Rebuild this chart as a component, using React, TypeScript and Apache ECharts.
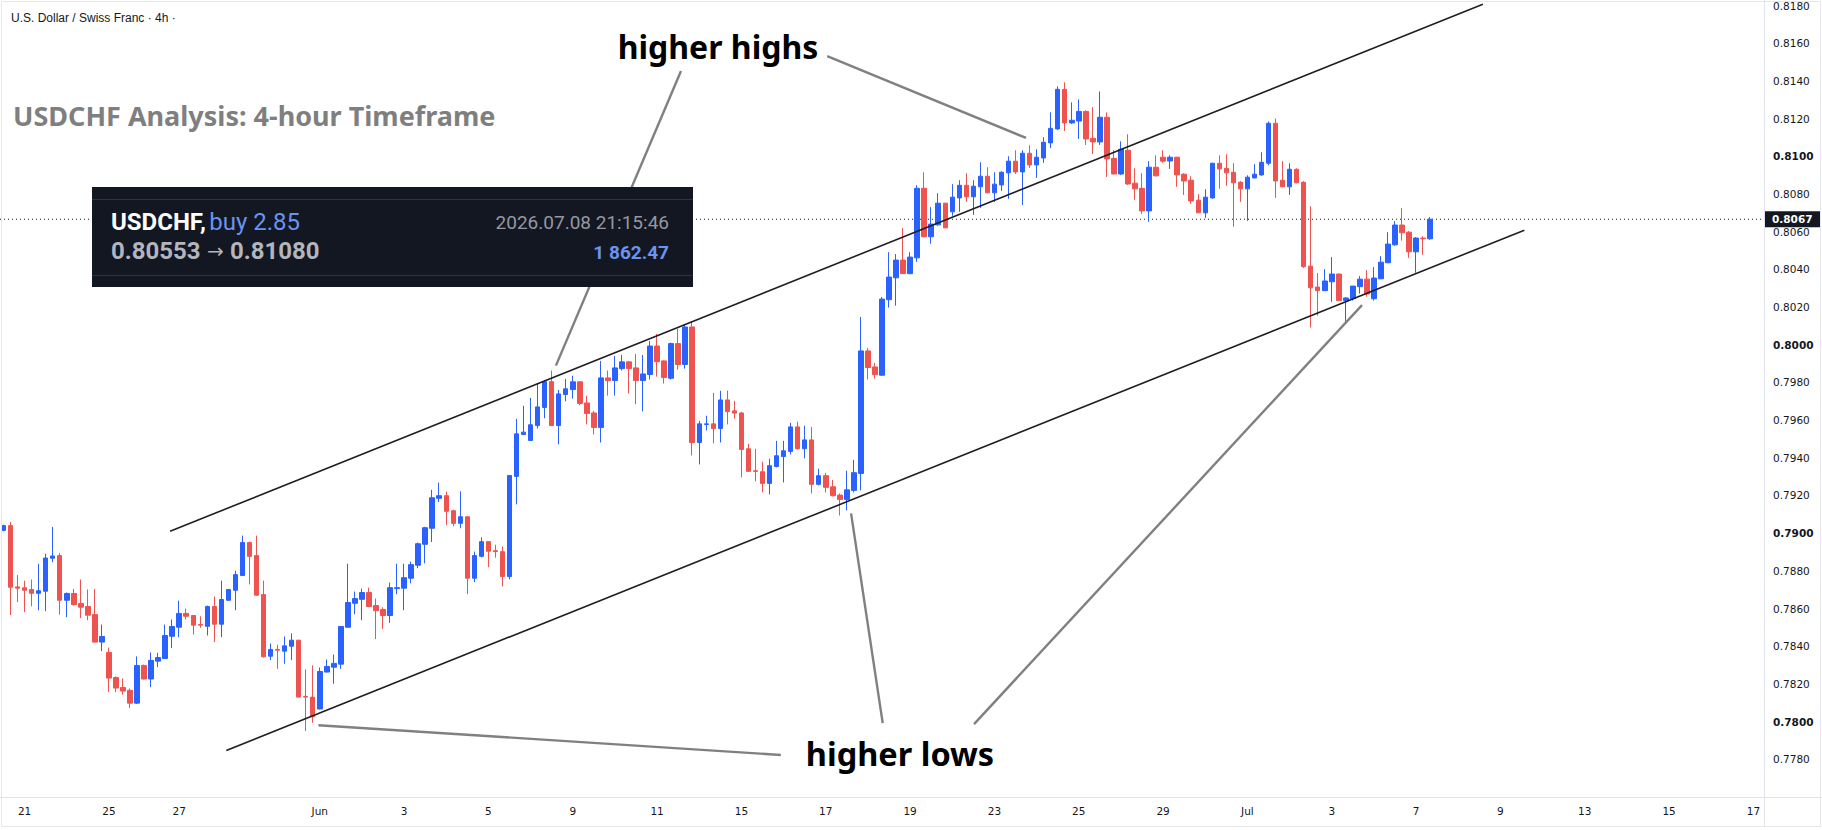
import React, { useEffect, useRef } from "react";
import * as echarts from "echarts";

// ---- Candle data (4h bars, USDCHF) ----
const opens = [
  0.79015, 0.7904, 0.78715, 0.7871, 0.78701, 0.78681, 0.78692, 0.78867, 0.78881, 0.78644,
  0.7868, 0.78627, 0.78611, 0.78568, 0.78422, 0.78367, 0.78234, 0.78181, 0.78166, 0.78098,
  0.78298, 0.78226, 0.78321, 0.78335, 0.78453, 0.78501, 0.78574, 0.78563, 0.78515, 0.78506,
  0.78611, 0.78517, 0.78644, 0.78697, 0.78775, 0.7895, 0.78881, 0.78674, 0.78347, 0.78383,
  0.78374, 0.784, 0.78432, 0.78134, 0.7813, 0.78067, 0.78263, 0.78289, 0.78305, 0.78501,
  0.78628, 0.78649, 0.78685, 0.78616, 0.78595, 0.78563, 0.78706, 0.78708, 0.78761, 0.7883,
  0.78941, 0.79026, 0.79185, 0.79199, 0.79119, 0.79052, 0.79087, 0.78761, 0.78877, 0.78955,
  0.78907, 0.78902, 0.7877, 0.79301, 0.79524, 0.79492, 0.79571, 0.79667, 0.79804, 0.79571,
  0.79736, 0.79762, 0.79803, 0.79691, 0.79638, 0.79561, 0.79824, 0.7981, 0.79873, 0.79909,
  0.79877, 0.7981, 0.79842, 0.79993, 0.79914, 0.79822, 0.80006, 0.79895, 0.80094, 0.79481,
  0.79577, 0.7958, 0.79555, 0.79707, 0.79649, 0.79638, 0.79448, 0.79331, 0.79326, 0.79264,
  0.79354, 0.79407, 0.79434, 0.79564, 0.79448, 0.79495, 0.79259, 0.79305, 0.79246, 0.79202,
  0.79179, 0.79227, 0.79317, 0.79967, 0.79882, 0.79838, 0.80239, 0.80355, 0.80449, 0.80377,
  0.80461, 0.8083, 0.80573, 0.80636, 0.80751, 0.80705, 0.80779, 0.80846, 0.80785, 0.80838,
  0.80894, 0.80806, 0.80848, 0.80912, 0.80974, 0.80917, 0.81016, 0.80954, 0.80991, 0.81071,
  0.81145, 0.81355, 0.81177, 0.81187, 0.81238, 0.81095, 0.81076, 0.81207, 0.80989, 0.80906,
  0.81032, 0.80857, 0.8083, 0.8071, 0.80942, 0.80995, 0.80975, 0.80995, 0.80905, 0.80873,
  0.80767, 0.807, 0.80779, 0.80963, 0.80936, 0.80915, 0.80862, 0.80827, 0.80885, 0.80901,
  0.80963, 0.81175, 0.80873, 0.80838, 0.80931, 0.80862, 0.80417, 0.80306, 0.80287, 0.80334,
  0.80375, 0.80234, 0.80244, 0.80308, 0.80348, 0.80244, 0.8035, 0.80435, 0.8053, 0.80635,
  0.80597, 0.80493, 0.80566, 0.80562,
];
const highs = [
  0.79045, 0.79059, 0.78778, 0.78748, 0.78754, 0.78838, 0.78891, 0.79033, 0.78895, 0.78685,
  0.78704, 0.78754, 0.78701, 0.78704, 0.78515, 0.78393, 0.7824, 0.78229, 0.78176, 0.78346,
  0.78303, 0.78367, 0.78365, 0.78515, 0.78542, 0.78642, 0.786, 0.78563, 0.78559, 0.78616,
  0.78664, 0.78748, 0.78703, 0.78801, 0.78987, 0.78955, 0.78987, 0.78748, 0.78415, 0.78408,
  0.78452, 0.78468, 0.78434, 0.78277, 0.78298, 0.78287, 0.7833, 0.78356, 0.78507, 0.78838,
  0.7869, 0.78706, 0.78711, 0.78653, 0.78607, 0.78738, 0.78838, 0.78838, 0.78849, 0.7895,
  0.79034, 0.7923, 0.79268, 0.7922, 0.79125, 0.79222, 0.79089, 0.78902, 0.78978, 0.78957,
  0.78939, 0.78929, 0.79308, 0.79607, 0.79676, 0.79718, 0.79796, 0.79813, 0.79863, 0.7976,
  0.79819, 0.79835, 0.79806, 0.79729, 0.79649, 0.79914, 0.79863, 0.7994, 0.79946, 0.79914,
  0.79951, 0.79946, 0.8002, 0.80057, 0.79916, 0.80011, 0.80084, 0.8011, 0.80126, 0.79596,
  0.79623, 0.79744, 0.79755, 0.79757, 0.79702, 0.79644, 0.79474, 0.79448, 0.79379, 0.79395,
  0.7949, 0.7949, 0.79585, 0.79591, 0.7957, 0.79564, 0.79342, 0.79321, 0.79283, 0.79211,
  0.79331, 0.79389, 0.80147, 0.79983, 0.79903, 0.80253, 0.80491, 0.80481, 0.80619, 0.80491,
  0.80846, 0.80915, 0.8073, 0.80804, 0.80753, 0.80852, 0.80873, 0.8091, 0.80873, 0.80968,
  0.80942, 0.80915, 0.80921, 0.81, 0.81032, 0.81032, 0.81058, 0.81037, 0.81101, 0.81233,
  0.81371, 0.81392, 0.81286, 0.81302, 0.81244, 0.8126, 0.81344, 0.81233, 0.81032, 0.81079,
  0.81117, 0.80936, 0.8091, 0.80974, 0.81005, 0.81032, 0.81005, 0.80997, 0.8091, 0.80894,
  0.80799, 0.80825, 0.80965, 0.81005, 0.81011, 0.80963, 0.80868, 0.80899, 0.80958, 0.81021,
  0.81185, 0.812, 0.80974, 0.80963, 0.80936, 0.80868, 0.80735, 0.8038, 0.80401, 0.80465,
  0.80377, 0.80253, 0.80311, 0.80364, 0.80396, 0.80412, 0.8047, 0.80597, 0.80656, 0.80725,
  0.80603, 0.80571, 0.80576, 0.80677,
];
const lows = [
  0.7901, 0.78565, 0.78634, 0.78581, 0.78612, 0.78591, 0.78586, 0.78846, 0.78568, 0.78554,
  0.78616, 0.78549, 0.78538, 0.7842, 0.78374, 0.78157, 0.78157, 0.78143, 0.78072, 0.78093,
  0.78224, 0.78183, 0.78289, 0.78332, 0.7839, 0.78448, 0.78542, 0.78462, 0.78498, 0.78457,
  0.78422, 0.78448, 0.78642, 0.78591, 0.78775, 0.78728, 0.78667, 0.7834, 0.78326, 0.7828,
  0.78307, 0.78326, 0.78128, 0.7795, 0.77994, 0.78065, 0.78261, 0.78201, 0.7828, 0.78499,
  0.7857, 0.78538, 0.78607, 0.78438, 0.78492, 0.78524, 0.78676, 0.78591, 0.78734, 0.78814,
  0.7884, 0.78953, 0.79165, 0.79042, 0.79036, 0.79026, 0.78676, 0.7874, 0.78872, 0.78819,
  0.7887, 0.78718, 0.78755, 0.79153, 0.79522, 0.7949, 0.79555, 0.7961, 0.79569, 0.79471,
  0.797, 0.79714, 0.79679, 0.79577, 0.79524, 0.79481, 0.7973, 0.7973, 0.79863, 0.79741,
  0.79684, 0.79646, 0.79815, 0.79831, 0.79794, 0.79815, 0.79868, 0.79873, 0.79412, 0.79365,
  0.79545, 0.79476, 0.79481, 0.79577, 0.79607, 0.79296, 0.79326, 0.79275, 0.79216, 0.79206,
  0.79349, 0.79269, 0.79418, 0.79444, 0.79397, 0.79211, 0.79253, 0.79216, 0.79195, 0.79094,
  0.79121, 0.79216, 0.79227, 0.79815, 0.7982, 0.79836, 0.80197, 0.80207, 0.80375, 0.80375,
  0.8044, 0.80571, 0.80536, 0.80631, 0.80618, 0.80684, 0.80705, 0.80758, 0.80689, 0.80726,
  0.80804, 0.80758, 0.80816, 0.80774, 0.80906, 0.80742, 0.80938, 0.80885, 0.80965, 0.81044,
  0.8114, 0.81134, 0.81171, 0.81092, 0.8106, 0.81012, 0.8106, 0.8089, 0.80904, 0.80901,
  0.80848, 0.80769, 0.80694, 0.80652, 0.80894, 0.80965, 0.80933, 0.80838, 0.80795, 0.80747,
  0.80698, 0.80673, 0.80774, 0.80827, 0.80843, 0.80626, 0.80758, 0.80657, 0.80883, 0.80896,
  0.80952, 0.80779, 0.80836, 0.80795, 0.80857, 0.80408, 0.80091, 0.80154, 0.80285, 0.80228,
  0.80232, 0.80117, 0.80234, 0.80271, 0.80255, 0.80234, 0.80348, 0.80433, 0.80525, 0.80552,
  0.80461, 0.80382, 0.80477, 0.80557,
];
const closes = [
  0.7904, 0.78713, 0.78708, 0.78697, 0.78681, 0.78695, 0.78868, 0.78879, 0.78644, 0.7868,
  0.78621, 0.78607, 0.78565, 0.78422, 0.78452, 0.78231, 0.78178, 0.78162, 0.78098, 0.78298,
  0.78226, 0.78325, 0.7834, 0.78457, 0.78505, 0.78574, 0.78559, 0.78512, 0.78512, 0.78611,
  0.78517, 0.78648, 0.78701, 0.7878, 0.7895, 0.78877, 0.78671, 0.78344, 0.78383, 0.78379,
  0.78402, 0.78432, 0.7813, 0.7813, 0.78026, 0.78266, 0.78293, 0.78309, 0.78505, 0.78632,
  0.78653, 0.78685, 0.78611, 0.78589, 0.78563, 0.78711, 0.78711, 0.78764, 0.78833, 0.78944,
  0.79029, 0.79188, 0.79199, 0.79116, 0.79052, 0.79087, 0.78761, 0.78881, 0.78955, 0.78904,
  0.78902, 0.7877, 0.79306, 0.79527, 0.79536, 0.79575, 0.7967, 0.79804, 0.79571, 0.79739,
  0.79766, 0.79803, 0.79688, 0.79635, 0.79561, 0.79824, 0.7981, 0.79877, 0.79909, 0.79873,
  0.7981, 0.79845, 0.79993, 0.7991, 0.79826, 0.80006, 0.79895, 0.80094, 0.79481, 0.7958,
  0.7958, 0.79555, 0.79707, 0.79645, 0.79637, 0.79444, 0.79328, 0.79328, 0.79264, 0.79358,
  0.79411, 0.79437, 0.79564, 0.79448, 0.79495, 0.79259, 0.79305, 0.79243, 0.79199, 0.79179,
  0.7923, 0.79321, 0.79967, 0.79879, 0.79841, 0.80242, 0.80359, 0.80449, 0.80377, 0.80465,
  0.8083, 0.80573, 0.8064, 0.80751, 0.8062, 0.80783, 0.80846, 0.80785, 0.80841, 0.80894,
  0.80806, 0.80852, 0.80915, 0.80974, 0.80917, 0.81016, 0.80954, 0.80995, 0.81074, 0.81148,
  0.81355, 0.81177, 0.81191, 0.81238, 0.81092, 0.81076, 0.81207, 0.80986, 0.80906, 0.81037,
  0.80853, 0.80827, 0.8071, 0.80942, 0.80896, 0.80974, 0.80995, 0.80901, 0.80869, 0.80763,
  0.807, 0.80783, 0.80963, 0.80933, 0.80912, 0.80859, 0.80827, 0.80889, 0.80905, 0.80968,
  0.81175, 0.80869, 0.80838, 0.80931, 0.80859, 0.80414, 0.80302, 0.80287, 0.80338, 0.80375,
  0.80234, 0.80248, 0.80311, 0.80348, 0.80269, 0.80354, 0.80438, 0.80534, 0.80635, 0.80594,
  0.80493, 0.80566, 0.80562, 0.80666,
];

// ---- Axis ----
const SLOTS = 251; // bar slots incl. empty future space
const dayLabels = ["21", "25", "27", "Jun", "3", "5", "9", "11", "15", "17", "19", "23", "25", "29", "Jul", "3", "7", "9", "13", "15", "17"];
const dayLabelSlots = [3, 15, 25, 45, 57, 69, 81, 93, 105, 117, 129, 141, 153, 165, 177, 189, 201, 213, 225, 237, 249];
const priceMin = 0.776;
const priceMax = 0.81823;
const priceStep = 0.002;

// ---- Drawings: [barIndex, price] ----
const upperChannel = [[23.7, 0.7901], [210.5, 0.81807]];
const lowerChannel = [[31.7, 0.77847], [216.4, 0.80608]];
const highPointers = [
  [[96.4, 0.81452], [78.6, 0.79889]],
  [[117.2, 0.81531], [145.5, 0.81097]],
];
const lowPointers = [
  [[44.8, 0.77981], [110.6, 0.77823]],
  [[120.6, 0.79105], [125.1, 0.77992]],
  [[138.1, 0.77987], [193.3, 0.8021]],
];

// ---- Texts ----
const subtitle = "U.S. Dollar / Swiss Franc · 4h ·";
const title = "USDCHF Analysis: 4-hour Timeframe";
const tradeSymbol = "USDCHF,";
const tradeSide = "buy 2.85";
const tradeOpen = "0.80553";
const tradeCloseP = "0.81080";
const tradeTime = "2026.07.08 21:15:46";
const tradeProfit = "1 862.47";

const UP = "#2962FF";
const DOWN = "#EF5350";

export default function App() {
  const ref = useRef<HTMLDivElement>(null);

  useEffect(() => {
    if (!ref.current) return;
    const chart = echarts.init(ref.current, null, { renderer: "svg" });

    const candleData = opens.map((o, i) => [o, closes[i], lows[i], highs[i]]);
    const categories = Array.from({ length: SLOTS }, (_, i) => "s" + i);
    const labelMap: Record<number, string> = {};
    dayLabelSlots.forEach((s, i) => (labelMap[s] = dayLabels[i]));
    const lastClose = closes[closes.length - 1];

    const lineSeries = (data: number[][], color: string, width: number) => ({
      type: "line",
      xAxisIndex: 1,
      yAxisIndex: 0,
      data,
      symbol: "none",
      silent: true,
      z: 5,
      lineStyle: { color, width },
    });

    const option: any = {
      animation: false,
      backgroundColor: "#ffffff",
      grid: { left: 0, right: 58, top: 0, bottom: 33 },
      xAxis: [
        {
          type: "category",
          data: categories,
          boundaryGap: true,
          axisLine: { show: false },
          axisTick: { show: false },
          splitLine: { show: false },
          axisLabel: {
            interval: 0,
            margin: 8,
            color: "#131722",
            fontSize: 10.5,
            fontFamily: "DejaVu Sans",
            formatter: (_v: string, idx: number) => labelMap[idx] || "",
          },
        },
        { type: "value", min: -0.5, max: SLOTS - 0.5, show: false },
      ],
      yAxis: {
        type: "value",
        position: "right",
        min: priceMin,
        max: priceMax,
        interval: priceStep,
        axisLine: { show: false },
        axisTick: { show: false },
        splitLine: { show: false },
        axisLabel: {
          margin: 9,
          color: "#131722",
          fontSize: 10.5,
          fontFamily: "DejaVu Sans",
          formatter: (v: number) => {
            const k = v / priceStep;
            if (Math.abs(k - Math.round(k)) > 1e-6 || v < priceMin + 0.001) return "";
            const s = v.toFixed(4);
            const m = v * 100;
            return Math.abs(m - Math.round(m)) < 1e-6 ? "{b|" + s + "}" : s;
          },
          rich: {
            b: { fontWeight: "bold", color: "#131722", fontSize: 10.5, fontFamily: "DejaVu Sans" },
          },
        },
      },
      series: [
        {
          type: "candlestick",
          data: candleData,
          barWidth: 5,
          z: 3,
          itemStyle: { color: UP, color0: DOWN, borderColor: UP, borderColor0: DOWN, borderWidth: 1 },
        },
        {
          type: "line",
          xAxisIndex: 1,
          yAxisIndex: 0,
          data: [[-0.5, lastClose], [SLOTS - 0.5, lastClose]],
          symbol: "none",
          silent: true,
          z: 2,
          lineStyle: { color: "#131722", type: [1, 3], width: 1 },
          endLabel: {
            show: true,
            distance: 0,
            formatter: () => lastClose.toFixed(4),
            backgroundColor: "#131722",
            color: "#ffffff",
            padding: [3, 8, 2, 8],
            fontSize: 10.5,
            fontWeight: "bold",
            fontFamily: "DejaVu Sans",
          },
        },
        lineSeries(upperChannel, "#1e1e24", 1.6),
        lineSeries(lowerChannel, "#1e1e24", 1.6),
        ...highPointers.map((d) => lineSeries(d, "#808080", 2.4)),
        ...lowPointers.map((d) => lineSeries(d, "#808080", 2.4)),
      ],
      graphic: [
        { type: "rect", z: 50, silent: true, shape: { x: 1.5, y: 1.5, width: 1819, height: 825 }, style: { fill: "none", stroke: "#e6e7ec", lineWidth: 1 } },
        { type: "line", z: 50, silent: true, shape: { x1: 1764.5, y1: 0, x2: 1764.5, y2: 827 }, style: { stroke: "#e0e3eb", lineWidth: 1 } },
        { type: "line", z: 50, silent: true, shape: { x1: 0, y1: 797.5, x2: 1822, y2: 797.5 }, style: { stroke: "#e0e3eb", lineWidth: 1 } },
        {
          type: "text", z: 50, x: 11, y: 18,
          style: { text: subtitle, fill: "#131722", font: "12px 'Liberation Sans'", textAlign: "left", textVerticalAlign: "middle", align: "left", verticalAlign: "middle" },
        },
        {
          type: "text", z: 50, x: 13, y: 115.5,
          style: { text: title, fill: "#7f7f7f", font: "bold 27px 'Noto Sans'", textAlign: "left", textVerticalAlign: "middle", align: "left", verticalAlign: "middle" },
        },
        {
          type: "text", z: 50, x: 718, y: 46,
          style: { text: "higher highs", fill: "#000000", font: "bold 32px 'Noto Sans'", textAlign: "center", textVerticalAlign: "middle", align: "center", verticalAlign: "middle" },
        },
        {
          type: "text", z: 50, x: 900, y: 753,
          style: { text: "higher lows", fill: "#000000", font: "bold 32.5px 'Noto Sans'", textAlign: "center", textVerticalAlign: "middle", align: "center", verticalAlign: "middle" },
        },
        { type: "rect", z: 100, silent: true, shape: { x: 92, y: 187, width: 601, height: 100 }, style: { fill: "#131722" } },
        { type: "line", z: 101, silent: true, shape: { x1: 92, y1: 199.5, x2: 693, y2: 199.5 }, style: { stroke: "#2f3442", lineWidth: 1 } },
        { type: "line", z: 101, silent: true, shape: { x1: 92, y1: 275.5, x2: 693, y2: 275.5 }, style: { stroke: "#2f3442", lineWidth: 1 } },
        {
          type: "text", z: 102, x: 111, y: 221.5,
          style: {
            text: "{a|" + tradeSymbol + "} {b|" + tradeSide + "}",
            textAlign: "left", textVerticalAlign: "middle", align: "left", verticalAlign: "middle",
            rich: {
              a: { fill: "#ffffff", color: "#ffffff", fontSize: 24, fontWeight: "bold", fontFamily: "Roboto" },
              b: { fill: "#6b93ef", color: "#6b93ef", fontSize: 24, fontFamily: "Roboto" },
            },
          },
        },
        {
          type: "text", z: 102, x: 111, y: 251,
          style: {
            text: "{p|" + tradeOpen + "}{r| → }{p|" + tradeCloseP + "}",
            textAlign: "left", textVerticalAlign: "middle", align: "left", verticalAlign: "middle",
            rich: {
              p: { fill: "#b2b5be", color: "#b2b5be", fontSize: 24, fontWeight: "bold", fontFamily: "Roboto" },
              r: { fill: "#b2b5be", color: "#b2b5be", fontSize: 20, fontFamily: "DejaVu Sans" },
            },
          },
        },
        {
          type: "text", z: 102, x: 669, y: 222,
          style: { text: tradeTime, fill: "#9598a1", font: "19px Roboto", textAlign: "right", textVerticalAlign: "middle", align: "right", verticalAlign: "middle" },
        },
        {
          type: "text", z: 102, x: 669, y: 252,
          style: { text: tradeProfit, fill: "#6b93ef", font: "bold 19px Roboto", textAlign: "right", textVerticalAlign: "middle", align: "right", verticalAlign: "middle" },
        },
      ],
    };

    chart.setOption(option);
    return () => chart.dispose();
  }, []);

  return (
    <div
      ref={ref}
      style={{ position: "fixed", left: 0, top: 0, width: 1822, height: 830, background: "#ffffff" }}
    />
  );
}
